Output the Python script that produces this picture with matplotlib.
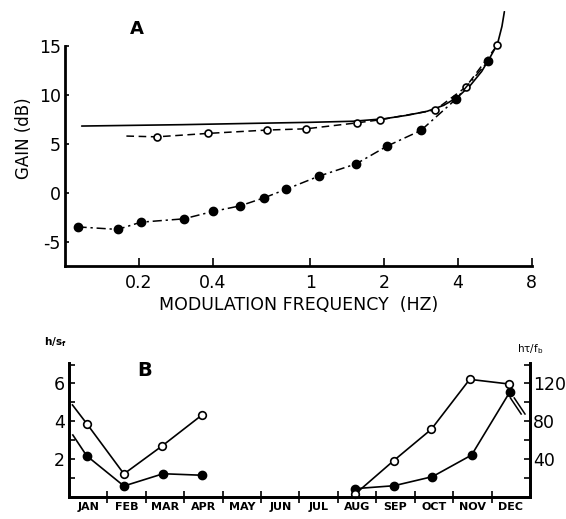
import matplotlib
matplotlib.use("Agg")
import matplotlib.pyplot as plt
import numpy as np

# ---------------- Panel A data ----------------
filled_f = [0.1125, 0.164, 0.204, 0.305, 0.401, 0.517, 0.648, 0.800, 1.085, 1.54, 2.06, 2.83, 3.92, 5.32]
filled_db = [-3.44, -3.70, -2.96, -2.62, -1.87, -1.30, -0.48, 0.41, 1.73, 2.99, 4.80, 6.40, 9.56, 13.47]

open_f = [0.237, 0.383, 0.665, 0.963, 1.557, 1.93, 3.23, 4.30, 5.80]
open_db = [5.74, 6.09, 6.43, 6.56, 7.17, 7.48, 8.47, 10.79, 15.10]
open_line_start = (0.178, 5.82)

solid_f = [0.117, 0.3, 0.6, 1.0, 1.5, 2.0, 2.5, 3.0, 3.5, 4.0, 4.5, 5.0, 5.4, 5.8, 6.05, 6.19]
solid_db = [6.84, 6.98, 7.12, 7.22, 7.33, 7.58, 7.95, 8.35, 8.95, 9.8, 11.0, 12.4, 13.8, 15.2, 17.0, 18.5]

xticks_a = [0.2, 0.4, 1, 2, 4, 8]
xticklabels_a = ["0.2", "0.4", "1", "2", "4", "8"]
yticks_a = [-5, 0, 5, 10, 15]

# ---------------- Panel B data ----------------
months = ["JAN", "FEB", "MAR", "APR", "MAY", "JUN", "JUL", "AUG", "SEP", "OCT", "NOV", "DEC"]
# first segment (Jan-Apr), left axis units (h/s_f)
open1_x = [0.09, 0.47, 1.43, 2.43, 3.45]
open1_y = [4.86, 3.85, 1.21, 2.70, 4.31]
open1_marker_start = 1
filled1_x = [0.10, 0.46, 1.43, 2.45, 3.46]
filled1_y = [3.27, 2.17, 0.57, 1.22, 1.14]
# second segment (Aug-Dec), right axis units (h tau / f_b)
open2_x = [7.44, 8.45, 9.43, 10.43, 11.45]
open2_y = [2.6, 38.2, 71.4, 124.3, 119.4]
filled2_x = [7.44, 8.46, 9.46, 10.48, 11.47]
filled2_y = [8.6, 11.7, 21.3, 44.2, 110.6]

yticks_b_left = [1, 2, 3, 4, 5, 6, 7]
yticklabels_b_left = ["", "2", "", "4", "", "6", ""]
yticks_b_right = [20, 40, 60, 80, 100, 120, 140]
yticklabels_b_right = ["", "40", "", "80", "", "120", ""]

plt.rcParams['font.family'] = ['DejaVu Sans']
plt.rcParams['axes.unicode_minus'] = False

fig = plt.figure(figsize=(5.66, 5.19), dpi=100)

# ================= Panel A =================
ax = fig.add_axes([0.1148, 0.488, 0.8246, 0.4914])
ax.set_xscale('log')
ax.set_xlim(0.1, 8)
ax.set_ylim(-7.4, 18.6)

ax.plot(solid_f, solid_db, color='black', lw=1.2, solid_capstyle='round')
ax.plot([open_line_start[0]] + open_f, [open_line_start[1]] + open_db, color='black', lw=1.1,
        linestyle=(0, (5, 3)))
ax.plot(open_f, open_db, linestyle='none', marker='o', ms=5, mfc='white', mec='black', mew=1.2)
ax.plot(filled_f, filled_db, color='black', lw=1.1, linestyle=(0, (6, 2.5, 1.5, 2.5)))
ax.plot(filled_f, filled_db, linestyle='none', marker='o', ms=6, color='black')

ax.spines['top'].set_visible(False)
ax.spines['right'].set_visible(False)
ax.spines['left'].set_linewidth(2)
ax.spines['bottom'].set_linewidth(2)
ax.spines['left'].set_bounds(-7.4, 15)

ax.set_xticks(xticks_a)
ax.set_xticklabels(xticklabels_a)
ax.xaxis.set_minor_locator(matplotlib.ticker.NullLocator())
ax.set_yticks(yticks_a)
ax.tick_params(axis='x', direction='in', length=6, width=1.2, labelsize=12.5, pad=6)
ax.tick_params(axis='y', direction='in', length=3, width=1.2, labelsize=12.5, pad=3)

ax.set_xlabel("MODULATION FREQUENCY  (HZ)", fontsize=12.5, labelpad=3)
ax.set_ylabel("GAIN (dB)", fontsize=12, labelpad=4)
ax.text(0.155, 0.93, "A", transform=ax.transAxes, fontsize=13, fontweight='heavy',
        ha='center', va='center')

# ================= Panel B =================
bx = fig.add_axes([0.1219, 0.0428, 0.8145, 0.2585])
bx.set_xlim(0, 12)
bx.set_ylim(0, 7.1)
bx2 = bx.twinx()
bx2.set_ylim(0, 7.1 * 20)

bx.plot(open1_x, open1_y, color='black', lw=1.2)
bx.plot(open1_x[open1_marker_start:], open1_y[open1_marker_start:], linestyle='none', marker='o',
        ms=5.5, mfc='white', mec='black', mew=1.2)
bx.plot(filled1_x, filled1_y, color='black', lw=1.2)
bx.plot(filled1_x[1:], filled1_y[1:], linestyle='none', marker='o', ms=6, color='black')

bx2.plot(filled2_x, filled2_y, color='black', lw=1.2)
bx2.plot(filled2_x, filled2_y, linestyle='none', marker='o', ms=6, color='black', clip_on=False)
bx2.plot(open2_x, open2_y, color='black', lw=1.2)
bx2.plot(open2_x, open2_y, linestyle='none', marker='o', ms=5.5, mfc='white', mec='black',
         mew=1.2, clip_on=False)

# break marks continuing beyond December
x0, y0 = filled2_x[-1], filled2_y[-1]
for dx in (0.0, 0.1):
    bx2.plot([x0 + dx + 0.02, x0 + dx + 0.3], [y0 - 6, y0 - 6 - 17], color='black', lw=1.1)

for a in (bx, bx2):
    a.spines['top'].set_visible(False)
    a.spines['left'].set_linewidth(2)
    a.spines['right'].set_linewidth(2)
    a.spines['bottom'].set_linewidth(2)

bx.set_xticks(range(1, 12))
bx.set_xticklabels([])
bx.set_xticks([i + 0.5 for i in range(12)], minor=True)
bx.set_xticklabels(months, minor=True)
bx.tick_params(axis='x', which='major', direction='inout', length=9, width=1.2)
bx.tick_params(axis='x', which='minor', length=0, pad=4, labelsize=8)
for lab in bx.get_xticklabels(minor=True):
    lab.set_fontweight('bold')

bx.set_yticks(yticks_b_left)
bx.set_yticklabels(yticklabels_b_left)
bx.tick_params(axis='y', direction='in', length=4, width=1.2, labelsize=12.5, pad=3)
bx2.set_yticks(yticks_b_right)
bx2.set_yticklabels(yticklabels_b_right)
bx2.tick_params(axis='y', direction='in', length=4, width=1.2, labelsize=12.5, pad=2)

bx.text(-0.03, 1.1, r"h/s$_\mathregular{f}$", transform=bx.transAxes, fontsize=7.5,
        fontweight='bold', ha='center', va='bottom')
bx.text(0.164, 0.94, "B", transform=bx.transAxes, fontsize=14, fontweight='heavy',
        ha='center', va='center')
bx.text(1.0, 1.05, r"hτ/f$_\mathregular{b}$", transform=bx.transAxes, fontsize=7.5,
        ha='center', va='bottom')

fig.savefig("out.png", dpi=100)
